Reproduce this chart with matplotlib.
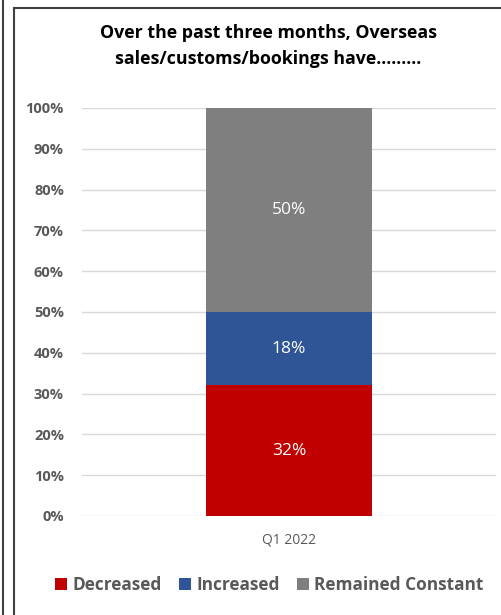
import matplotlib.pyplot as plt
from matplotlib.lines import Line2D

categories = ["Q1 2022"]
series = ["Decreased", "Increased", "Remained Constant"]
values = [[32], [18], [50]]
colors = ["#C00000", "#2F5597", "#7F7F7F"]
yticks = [0, 10, 20, 30, 40, 50, 60, 70, 80, 90, 100]

plt.rcParams['font.family'] = ['Open Sans', 'DejaVu Sans']

fig = plt.figure(figsize=(5.01, 6.15), dpi=100)
ax = fig.add_axes([0.1637, 0.161, 0.8263, 0.6634])

bottom = [0] * len(categories)
for name, vals, c in zip(series, values, colors):
    bars = ax.bar(range(len(categories)), vals, width=0.4, bottom=bottom,
                  color=c, label=name, zorder=3)
    for b, v in zip(bars, vals):
        ax.text(b.get_x() + b.get_width() / 2, b.get_y() + b.get_height() / 2,
                f"{v}%", ha='center', va='center', color='white', fontsize=12.5)
    bottom = [a + b for a, b in zip(bottom, vals)]

ax.set_xlim(-0.5, 0.5)
ax.set_ylim(0, 100)
ax.set_yticks(yticks)
ax.set_yticklabels([f"{t}%" for t in yticks], fontweight='bold', color='#595959', fontsize=10.5)
ax.set_xticks(range(len(categories)))
ax.set_xticklabels(categories, color='#595959', fontsize=10)
ax.tick_params(length=0, pad=13)
ax.tick_params(axis='x', pad=12)
ax.grid(axis='y', color='#D9D9D9', linewidth=1, zorder=0)
for s in ax.spines.values():
    s.set_visible(False)

fig.text(0.535, 0.925, "Over the past three months, Overseas\nsales/customs/bookings have.........",
         ha='center', va='center', fontsize=12.8, fontweight='bold', linespacing=1.55)

leg = fig.legend(loc='center', bbox_to_anchor=(0.538, 0.049), ncol=3, frameon=False,
                 handlelength=0.7, handleheight=0.7, handletextpad=0.3, columnspacing=1.0,
                 prop={'size': 12.4, 'weight': 'bold'})
for t in leg.get_texts():
    t.set_color('#595959')

frame = '#404040'
fig.add_artist(Line2D([3 / 501, 3 / 501], [0, 1], color=frame, linewidth=1.5))
fig.add_artist(Line2D([14 / 501, 14 / 501], [0, 1 - 8 / 615], color=frame, linewidth=1.5))
fig.add_artist(Line2D([14 / 501, 1], [1 - 8 / 615, 1 - 8 / 615], color=frame, linewidth=1.5))

fig.savefig("out.png", dpi=100)
